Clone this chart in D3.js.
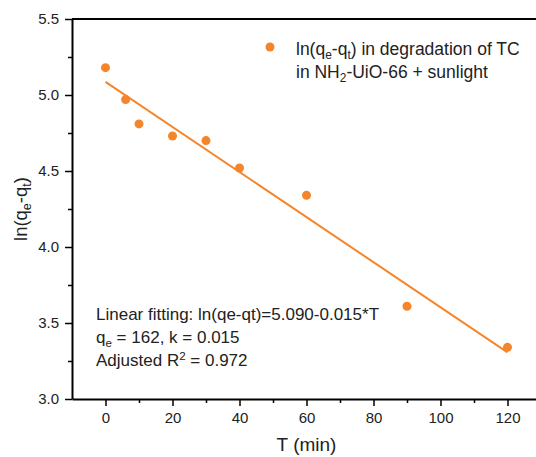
<!DOCTYPE html>
<html>
<head>
<meta charset="utf-8">
<script src="https://cdn.jsdelivr.net/npm/d3@7"></script>
<style>
  body { margin: 0; background: #fff; }
  svg { font-family: "Liberation Sans", Arial, sans-serif; }
</style>
</head>
<body>
<div id="chart"></div>
<script>
// ln(qe-qt) vs time, pseudo-first-order fit

const times = [0, 6, 10, 20, 30, 40, 60, 90, 120];
const lnValues = [5.18, 4.97, 4.81, 4.73, 4.70, 4.52, 4.34, 3.61, 3.34];
const xTicks = [0, 20, 40, 60, 80, 100, 120];
const yTicks = [3.0, 3.5, 4.0, 4.5, 5.0, 5.5];
const fitLines = ["Linear fitting: ln(qe-qt)=5.090-0.015*T", "q|e| = 162, k = 0.015", "Adjusted R^2^ = 0.972"];

const width = 536, height = 457;
const margin = {top: 19, right: -5, bottom: 58, left: 72};
const orange = "#f5852a";

const svg = d3.select("#chart").append("svg")
    .attr("width", width)
    .attr("height", height);

// scales
const x = d3.scaleLinear()
    .domain([-10, 130])
    .range([margin.left, width - margin.right]);
const y = d3.scaleLinear()
    .domain([3.0, 5.5])
    .range([height - margin.bottom, margin.top]);

// minor ticks
svg.append("g")
    .attr("transform", "translate(0," + (height - margin.bottom) + ")")
    .call(d3.axisBottom(x).tickValues(d3.range(10, 130, 20)).tickSize(4))
    .call(g => g.select(".domain").remove())
    .call(g => g.selectAll("text").remove())
    .call(g => g.selectAll("line").attr("stroke-width", 1.5));
svg.append("g")
    .attr("transform", "translate(" + margin.left + ",0)")
    .call(d3.axisLeft(y).tickValues(d3.range(3.25, 5.5, 0.5)).tickSize(4))
    .call(g => g.select(".domain").remove())
    .call(g => g.selectAll("text").remove())
    .call(g => g.selectAll("line").attr("stroke-width", 1.5));

// X axis
svg.append("g")
    .attr("transform", "translate(0," + (height - margin.bottom) + ")")
    .call(d3.axisBottom(x).tickValues(xTicks).tickSize(7).tickSizeOuter(0).tickPadding(6))
    .call(g => g.select(".domain").attr("stroke-width", 2))
    .call(g => g.selectAll("line").attr("stroke-width", 1.5))
    .call(g => g.selectAll("text").attr("font-size", 15).attr("fill", "#222"));

// Y axis
svg.append("g")
    .attr("transform", "translate(" + margin.left + ",0)")
    .call(d3.axisLeft(y).tickValues(yTicks).tickFormat(d3.format(".1f")).tickSize(7).tickSizeOuter(0).tickPadding(6))
    .call(g => g.select(".domain").attr("stroke-width", 2))
    .call(g => g.selectAll("line").attr("stroke-width", 1.5))
    .call(g => g.selectAll("text").attr("font-size", 15).attr("fill", "#222"));

// top frame line
svg.append("line")
    .attr("x1", margin.left).attr("x2", width)
    .attr("y1", y(5.5)).attr("y2", y(5.5))
    .attr("stroke", "#000").attr("stroke-width", 2);

// least squares fit of the points
const mt = d3.mean(times), my = d3.mean(lnValues);
let sxy = 0, sxx = 0;
times.forEach((t, i) => { sxy += (t - mt) * (lnValues[i] - my); sxx += (t - mt) * (t - mt); });
const slope = sxy / sxx, icpt = my - slope * mt;
const tMin = d3.min(times), tMax = d3.max(times);

svg.append("line")
    .attr("x1", x(tMin)).attr("y1", y(icpt + slope * tMin))
    .attr("x2", x(tMax)).attr("y2", y(icpt + slope * tMax))
    .attr("stroke", orange).attr("stroke-width", 2);

svg.selectAll("circle.pt")
    .data(times)
    .enter().append("circle")
    .attr("class", "pt")
    .attr("cx", d => x(d))
    .attr("cy", (d, i) => y(lnValues[i]))
    .attr("r", 4.5)
    .attr("fill", orange);

// helper: "q|e|" -> subscript, "R^2^" -> superscript
function richText(sel, str, shift) {
    const parts = str.split(/(\|[^|]*\||\^[^^]*\^)/).filter(s => s.length);
    let back = 0;
    parts.forEach(p => {
        if (p[0] === "|") {
            sel.append("tspan").attr("font-size", "0.68em").attr("dy", back + shift).text(p.slice(1, -1));
            back = -shift;
        } else if (p[0] === "^") {
            sel.append("tspan").attr("font-size", "0.68em").attr("dy", back - shift * 1.5).text(p.slice(1, -1));
            back = shift * 1.5;
        } else {
            sel.append("tspan").attr("dy", back).text(p);
            back = 0;
        }
    });
}

// legend
svg.append("circle")
    .attr("cx", 270).attr("cy", 47).attr("r", 4.5)
    .attr("fill", orange);
const leg1 = svg.append("text").attr("x", 296).attr("y", 55).attr("font-size", 17.5).attr("fill", "#222");
richText(leg1, "ln(q|e|-q|t|) in degradation of TC", 4);
const leg2 = svg.append("text").attr("x", 296).attr("y", 78).attr("font-size", 17.5).attr("fill", "#222");
richText(leg2, "in NH|2|-UiO-66 + sunlight", 4);

// fit annotation
fitLines.forEach((s, i) => {
    const t = svg.append("text")
        .attr("x", 96).attr("y", 320 + i * 23)
        .attr("font-size", 17).attr("fill", "#222");
    richText(t, s, 4);
});

// axis titles
const yt = svg.append("text")
    .attr("transform", "translate(27," + ((y(5.5) + y(3.0)) / 2) + ") rotate(-90)")
    .attr("text-anchor", "middle")
    .attr("font-size", 18.5).attr("fill", "#222");
richText(yt, "ln(q|e|-q|t|)", 4);

svg.append("text")
    .attr("x", x(60)).attr("y", 451)
    .attr("text-anchor", "middle")
    .attr("font-size", 19).attr("fill", "#222")
    .text("T (min)");
</script>
</body>
</html>
